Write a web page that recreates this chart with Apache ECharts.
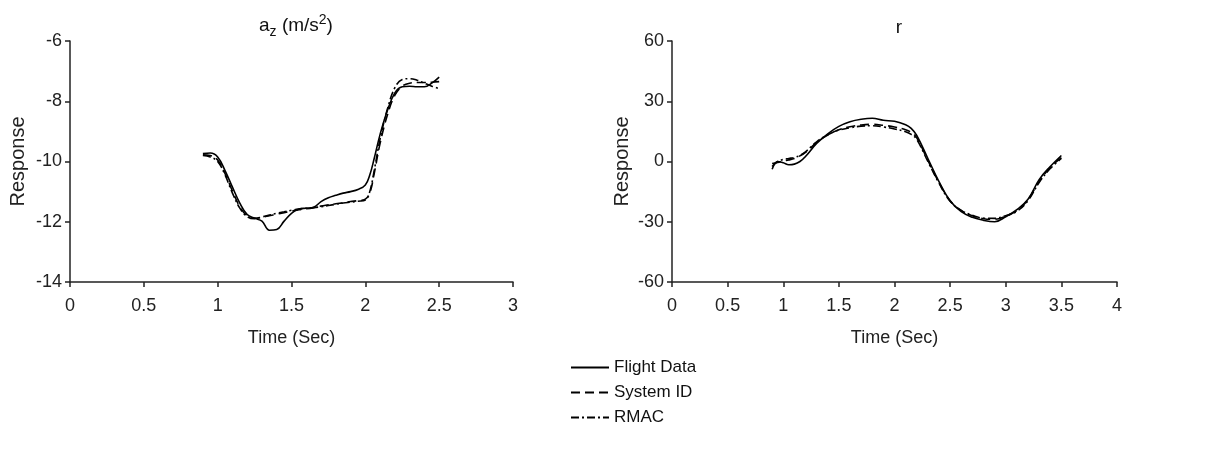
<!DOCTYPE html>
<html><head><meta charset="utf-8">
<script src="https://cdn.jsdelivr.net/npm/echarts@6/dist/echarts.min.js"></script>
<style>html,body{margin:0;padding:0;background:#fff}#c{width:1218px;height:459px}</style>
</head><body><div id="c"></div>
<script>
// ---- data: a_z panel ----
const azTime = [0.9,0.95,1.0,1.05,1.1,1.15,1.2,1.25,1.3,1.35,1.4,1.45,1.5,1.55,1.6,1.65,1.7,1.75,1.8,1.85,1.9,1.95,2.0,2.03,2.06,2.1,2.15,2.2,2.25,2.3,2.35,2.4,2.45,2.5];
const azFlight = [-9.74,-9.72,-9.85,-10.3,-10.85,-11.38,-11.76,-11.88,-11.98,-12.28,-12.26,-11.98,-11.72,-11.58,-11.55,-11.52,-11.33,-11.2,-11.12,-11.05,-11.0,-10.93,-10.78,-10.45,-9.9,-9.1,-8.3,-7.72,-7.52,-7.5,-7.52,-7.52,-7.4,-7.2];
const azSysId = [-9.78,-9.8,-9.95,-10.4,-10.98,-11.5,-11.8,-11.88,-11.85,-11.8,-11.75,-11.7,-11.65,-11.6,-11.57,-11.53,-11.48,-11.44,-11.4,-11.37,-11.33,-11.3,-11.25,-11.05,-10.4,-9.4,-8.45,-7.8,-7.5,-7.4,-7.38,-7.38,-7.37,-7.35];
const azRmac = [-9.8,-9.85,-10.0,-10.45,-11.05,-11.55,-11.83,-11.9,-11.84,-11.78,-11.72,-11.67,-11.62,-11.58,-11.55,-11.53,-11.5,-11.46,-11.42,-11.38,-11.35,-11.32,-11.28,-11.0,-10.3,-9.25,-8.25,-7.55,-7.28,-7.25,-7.3,-7.4,-7.5,-7.58];
// ---- data: r panel ----
const rTime = [0.9,0.95,1.0,1.05,1.1,1.15,1.2,1.3,1.4,1.5,1.6,1.7,1.8,1.9,2.0,2.1,2.15,2.2,2.3,2.4,2.5,2.6,2.7,2.8,2.9,3.0,3.1,3.2,3.3,3.4,3.5];
const rFlight = [-3.9,0.0,-0.6,-1.6,-1.3,0.0,2.5,9.0,13.8,17.5,19.8,21.0,21.5,20.5,20.0,18.3,16.5,13.0,1.5,-10.0,-19.5,-25.0,-27.8,-29.3,-30.0,-27.5,-24.0,-18.8,-9.0,-2.5,3.0];
const rSysId = [-1.0,-0.5,0.3,0.8,1.5,2.8,4.5,9.5,13.2,15.8,17.3,18.2,18.5,18.0,17.2,15.8,14.5,11.8,0.5,-10.5,-19.5,-24.5,-27.0,-28.5,-28.8,-27.2,-24.5,-19.0,-10.0,-3.0,2.0];
const rRmac = [-2.5,0.0,1.0,1.5,2.0,3.0,4.8,9.8,13.3,15.6,16.8,17.6,17.8,17.2,16.2,14.8,13.5,11.0,0.0,-10.8,-19.8,-24.3,-26.8,-28.2,-28.3,-27.0,-24.8,-19.5,-10.5,-3.5,1.5];
// ---- axes / labels ----
const seriesNames = ['Flight Data','System ID','RMAC'];
const azYAxis = {min:-14, max:-6, interval:2};
const rYAxis = {min:-60, max:60, interval:30};
const azXAxis = {min:0, max:3, interval:0.5};
const rXAxis = {min:0, max:4, interval:0.5};
const xName = 'Time (Sec)';
const yName = 'Response';

const zip = (t, v) => t.map((x, i) => [x, v[i]]);
const font = 'Liberation Sans, Arial, sans-serif';
const axisCol = '#222';
const styles = [
  {type:'solid', width:1.6},
  {type:[9,5], width:1.6},
  {type:[8,3,2,3], width:1.6}
];
function xAx(idx, cfg){
  return {type:'value', gridIndex:idx, min:cfg.min, max:cfg.max, interval:cfg.interval,
    name:xName, nameLocation:'middle', nameGap:47,
    nameTextStyle:{fontFamily:font, fontSize:18, color:'#222'},
    axisLine:{show:true, onZero:false, lineStyle:{color:axisCol, width:1.5}},
    axisTick:{show:true, length:5, inside:false, lineStyle:{color:axisCol, width:1.5}},
    axisLabel:{fontFamily:font, fontSize:18, color:'#222', margin:15},
    splitLine:{show:false}};
}
function yAx(idx, cfg, gap){
  return {type:'value', gridIndex:idx, min:cfg.min, max:cfg.max, interval:cfg.interval,
    name:yName, nameLocation:'middle', nameGap:gap,
    nameTextStyle:{fontFamily:font, fontSize:20, color:'#222'},
    axisLine:{show:true, lineStyle:{color:axisCol, width:1.5}},
    axisTick:{show:true, length:5, inside:false, lineStyle:{color:axisCol, width:1.5}},
    axisLabel:{fontFamily:font, fontSize:18, color:'#222', margin:8},
    splitLine:{show:false}};
}
function mk(name, idx, t, v, si){
  return {name:name, type:'line', xAxisIndex:idx, yAxisIndex:idx, data:zip(t, v),
    smooth:0.4, showSymbol:false, symbol:'none',
    lineStyle:Object.assign({color:'#000'}, styles[si]),
    itemStyle:{color:'#000'}, z: 10 - si};
}
const chart = echarts.init(document.getElementById('c'), null, {renderer:'canvas'});
chart.setOption({
  animation:false,
  backgroundColor:'#fff',
  title:[
    {text:'a{sub|z} (m/s{sup|2})', left:291, textAlign:'center', top:8,
     textStyle:{fontFamily:font, fontSize:19, fontWeight:'normal', color:'#111',
       rich:{sub:{fontFamily:font, fontSize:14, color:'#111', verticalAlign:'top', padding:[12,0,0,0]},
             sup:{fontFamily:font, fontSize:14, color:'#111', verticalAlign:'top', padding:[0,0,0,0]}}}},
    {text:'r', left:894, textAlign:'center', top:13,
     textStyle:{fontFamily:font, fontSize:19, fontWeight:'normal', color:'#111'}}
  ],
  legend:{orient:'vertical', left:565, top:354, itemWidth:38, itemHeight:14, itemGap:8,
    data:seriesNames,
    itemStyle:{opacity:0, color:'rgba(0,0,0,0)', borderWidth:0},
    textStyle:{fontFamily:font, fontSize:17, color:'#111'}},
  grid:[
    {left:70, top:41, width:443, height:241},
    {left:672, top:41, width:445, height:241}
  ],
  xAxis:[xAx(0, azXAxis), xAx(1, rXAxis)],
  yAxis:[yAx(0, azYAxis, 42), yAx(1, rYAxis, 40)],
  series:[
    mk(seriesNames[0], 0, azTime, azFlight, 0),
    mk(seriesNames[1], 0, azTime, azSysId, 1),
    mk(seriesNames[2], 0, azTime, azRmac, 2),
    mk(seriesNames[0], 1, rTime, rFlight, 0),
    mk(seriesNames[1], 1, rTime, rSysId, 1),
    mk(seriesNames[2], 1, rTime, rRmac, 2)
  ]
});
</script></body></html>
